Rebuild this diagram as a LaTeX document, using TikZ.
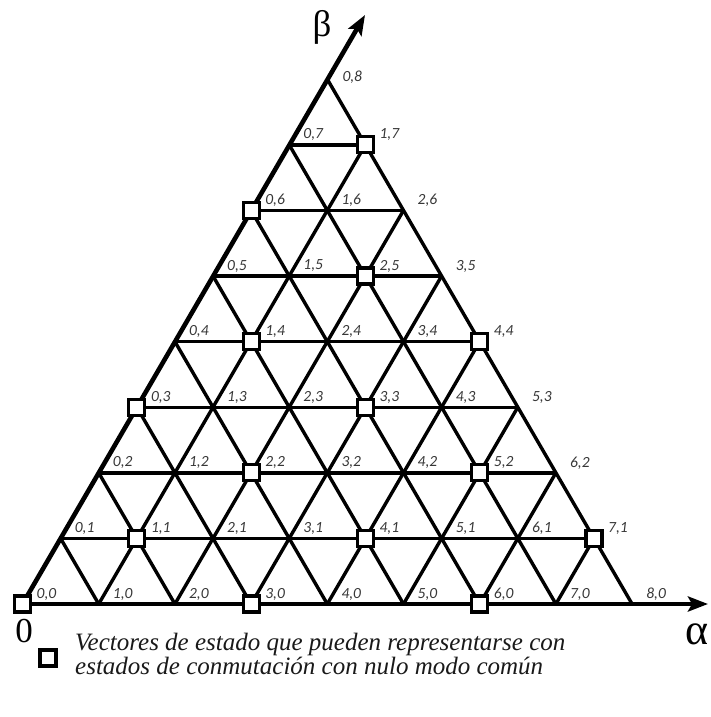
\documentclass[tikz,border=0pt]{standalone}
\usepackage{fontspec}
\setmainfont{Liberation Serif}
\newfontfamily\lblfont{Carlito}
\usetikzlibrary{arrows.meta}
\definecolor{labelgray}{RGB}{55,55,55}
\definecolor{legendgray}{RGB}{25,25,25}
\begin{document}
\begin{tikzpicture}[x=1pt,y=1pt,
  gridline/.style={line width=3.4pt},
  axisline/.style={line width=4.6pt,-{Stealth[length=20pt,width=15pt,inset=4pt]}},
  statebox/.style={draw,line width=3.2pt,fill=white,minimum size=16pt,inner sep=0pt},
  ptlabel/.style={font=\lblfont\itshape\fontsize{15.5}{16}\selectfont,text=labelgray,inner sep=0pt},
  axislabel/.style={inner sep=0pt}]
\useasboundingbox (0,0) rectangle (710,-717);
% grid points
\foreach \b in {0,...,8}{
  \pgfmathtruncatemacro{\amax}{8-\b}
  \foreach \a in {0,...,\amax}{
    \coordinate (p-\a-\b) at ({22.5+76.2*(\a+\b/2)},{-604+65.6*\b});
  }
}
% horizontal lines
\foreach \b in {1,...,7}{
  \pgfmathtruncatemacro{\am}{8-\b}
  \draw[gridline] (p-0-\b) -- (p-\am-\b);
}
% lines parallel to beta axis
\foreach \a in {1,...,7}{
  \pgfmathtruncatemacro{\bm}{8-\a}
  \draw[gridline] (p-\a-0) -- (p-\a-\bm);
}
% lines parallel to the right edge
\foreach \k in {1,...,8}{
  \draw[gridline] (p-\k-0) -- (p-0-\k);
}
% axes
\coordinate (atip) at (708,-604);
\coordinate (btip) at (365,-15);
\draw[axisline] (p-0-0) -- (atip);
\draw[axisline] (p-0-0) -- (btip);
% labels
\foreach \b in {0,...,8}{
  \pgfmathtruncatemacro{\amax}{8-\b}
  \foreach \a in {0,...,\amax}{
    \ifnum\b=8
      \node[ptlabel] (l-\a-\b) at ([shift={(25,2)}]p-\a-\b) {\a,\b};
    \else
      \node[ptlabel] (l-\a-\b) at ([shift={(24,10)}]p-\a-\b) {\a,\b};
    \fi
  }
}
% state boxes
\foreach \a/\b in {0/0,3/0,6/0,1/1,4/1,7/1,2/2,5/2,0/3,3/3,1/4,4/4,2/5,0/6,1/7}{
  \node[statebox] (s-\a-\b) at (p-\a-\b) {};
}
% axis labels
\node[axislabel,font=\fontsize{44}{44}\selectfont] (alpha) at (697,-634) {α};
\node[axislabel,font=\fontsize{37}{37}\selectfont] (beta) at (322,-27) {β};
\node[axislabel,font=\fontsize{35}{35}\selectfont] (zero) at (24,-631) {0};
% legend
\node[statebox] (key) at (48,-658) {};
\node[anchor=base west,align=left,inner sep=0pt,text=legendgray,
  font=\itshape\fontsize{25}{24}\selectfont] (keytext) at (75,-674)
  {Vectores de estado que pueden representarse con\\estados de conmutación con nulo modo común};
\end{tikzpicture}
\end{document}
